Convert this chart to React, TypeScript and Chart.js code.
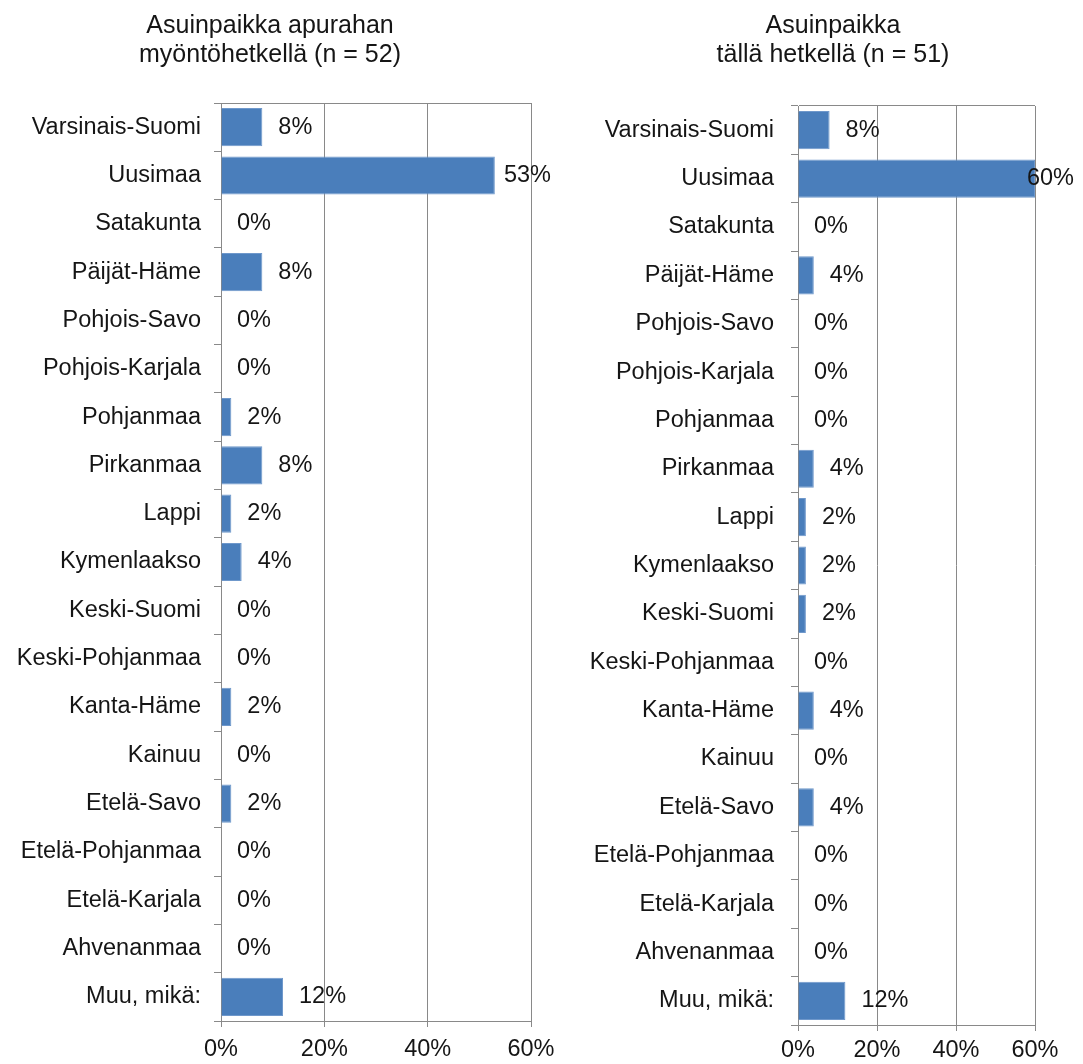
import React, { useEffect, useRef } from "react";
import { Chart, registerables } from "chart.js";

Chart.register(...registerables);

const categories = [
  "Varsinais-Suomi",
  "Uusimaa",
  "Satakunta",
  "Päijät-Häme",
  "Pohjois-Savo",
  "Pohjois-Karjala",
  "Pohjanmaa",
  "Pirkanmaa",
  "Lappi",
  "Kymenlaakso",
  "Keski-Suomi",
  "Keski-Pohjanmaa",
  "Kanta-Häme",
  "Kainuu",
  "Etelä-Savo",
  "Etelä-Pohjanmaa",
  "Etelä-Karjala",
  "Ahvenanmaa",
  "Muu, mikä:",
];

const grantTimeValues = [8, 53, 0, 8, 0, 0, 2, 8, 2, 4, 0, 0, 2, 0, 2, 0, 0, 0, 12];
const currentValues = [8, 60, 0, 4, 0, 0, 0, 4, 2, 2, 2, 0, 4, 0, 4, 0, 0, 0, 12];

const grantTitle = ["Asuinpaikka apurahan", "myöntöhetkellä (n = 52)"];
const currentTitle = ["Asuinpaikka", "tällä hetkellä (n = 51)"];

const axisMin = 0;
const axisMax = 60;
const axisStep = 20;

const FONT = "'Liberation Sans', Arial, sans-serif";
const TEXT = "#151515";
const GRID = "#898989";
const BAR = "#4A7EBB";
const BAR_EDGE = "#6F98CB";
const CANVAS_H = 1064;

type Geo = {
  left: number;
  width: number;
  plotLeft: number;
  plotRight: number;
  plotTop: number;
  plotBottom: number;
  titleX: number;
  labelPad: number;
  xLabelPad: number;
};

const leftGeo: Geo = {
  left: 0,
  width: 560,
  plotLeft: 221,
  plotRight: 531,
  plotTop: 103,
  plotBottom: 1021,
  titleX: 270,
  labelPad: 13,
  xLabelPad: 8,
};

const rightGeo: Geo = {
  left: 560,
  width: 523,
  plotLeft: 238,
  plotRight: 475,
  plotTop: 106,
  plotBottom: 1025,
  titleX: 273,
  labelPad: 17,
  xLabelPad: 5,
};

const valueLabelPlugin = {
  id: "valueLabels",
  afterDatasetsDraw(chart: any, _args: any, opts: any) {
    const ctx = chart.ctx;
    const meta = chart.getDatasetMeta(0);
    const data = chart.data.datasets[0].data as number[];
    ctx.save();
    ctx.font = `23.5px ${FONT}`;
    ctx.fillStyle = TEXT;
    ctx.textBaseline = "middle";
    ctx.textAlign = "left";
    meta.data.forEach((bar: any, i: number) => {
      const txt = `${data[i]}%`;
      const w = ctx.measureText(txt).width;
      let x = bar.x + (opts.offset ?? 16);
      x = Math.min(x, chart.width - w - (opts.edge ?? 9));
      ctx.fillText(txt, x, bar.y);
    });
    ctx.restore();
  },
};

const titlePlugin = {
  id: "twoLineTitle",
  afterDraw(chart: any, _args: any, opts: any) {
    const ctx = chart.ctx;
    const lines: string[] = opts.lines || [];
    ctx.save();
    ctx.font = `25px ${FONT}`;
    ctx.fillStyle = TEXT;
    ctx.textAlign = "center";
    ctx.textBaseline = "alphabetic";
    lines.forEach((line, i) => {
      ctx.fillText(line, opts.x, 33 + i * 29);
    });
    ctx.restore();
  },
};

function BarPanel({ values, title, geo }: { values: number[]; title: string[]; geo: Geo }) {
  const ref = useRef<HTMLCanvasElement | null>(null);

  useEffect(() => {
    if (!ref.current) return;
    const chart = new Chart(ref.current, {
      type: "bar",
      data: {
        labels: categories,
        datasets: [
          {
            data: values,
            backgroundColor: BAR,
            borderColor: BAR_EDGE,
            borderWidth: 1,
            barPercentage: 0.79,
            categoryPercentage: 1,
          },
        ],
      },
      options: {
        indexAxis: "y",
        responsive: false,
        animation: false,
        layout: {
          padding: { left: 0, right: geo.width - geo.plotRight, top: geo.plotTop, bottom: 0 },
        },
        plugins: {
          legend: { display: false },
          tooltip: { enabled: false },
          title: { display: false },
          valueLabels: { offset: 16, edge: 9 },
          twoLineTitle: { lines: title, x: geo.titleX },
        } as any,
        scales: {
          x: {
            min: axisMin,
            max: axisMax,
            ticks: {
              stepSize: axisStep,
              callback: (v: any) => `${v}%`,
              font: { family: FONT, size: 23.5 },
              color: TEXT,
              padding: geo.xLabelPad,
              maxRotation: 0,
            },
            grid: { color: GRID, lineWidth: 1, tickLength: 6, drawTicks: true },
            border: { color: GRID },
            afterFit: (s: any) => {
              s.height = CANVAS_H - geo.plotBottom;
              s.paddingLeft = 0;
              s.paddingRight = 0;
            },
          },
          y: {
            ticks: {
              font: { family: FONT, size: 23.5 },
              color: TEXT,
              padding: geo.labelPad,
              autoSkip: false,
            },
            grid: {
              offset: true,
              drawOnChartArea: true,
              color: (c: any) => (c.index === 0 ? GRID : "rgba(0,0,0,0)"),
              tickColor: GRID,
              tickLength: 7,
            },
            border: { color: GRID },
            afterFit: (s: any) => {
              s.width = geo.plotLeft;
              s.paddingTop = 0;
              s.paddingBottom = 0;
            },
          },
        },
      } as any,
      plugins: [valueLabelPlugin, titlePlugin],
    });
    return () => chart.destroy();
  }, [values, title, geo]);

  return (
    <canvas
      ref={ref}
      width={geo.width}
      height={CANVAS_H}
      style={{ position: "absolute", left: geo.left, top: 0, width: geo.width, height: CANVAS_H, display: "block" }}
    />
  );
}

export default function App() {
  return (
    <div style={{ position: "fixed", left: 0, top: 0, width: 1083, height: 1064, background: "#ffffff" }}>
      <BarPanel values={grantTimeValues} title={grantTitle} geo={leftGeo} />
      <BarPanel values={currentValues} title={currentTitle} geo={rightGeo} />
    </div>
  );
}
